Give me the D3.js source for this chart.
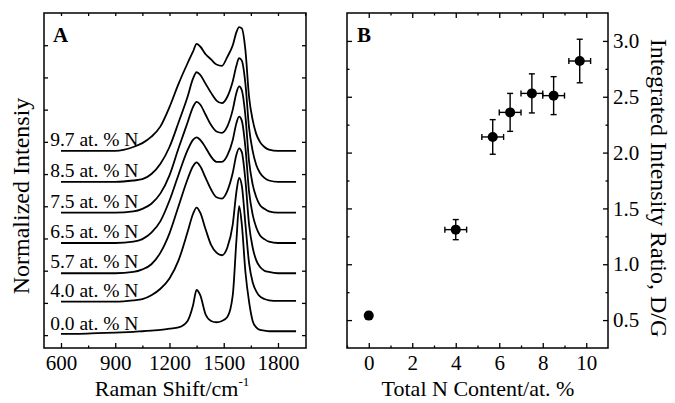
<!DOCTYPE html>
<html lang="en">
  <head>
    <meta charset="utf-8">
    <title>Raman spectra and D/G ratio</title>
    <script src="https://d3js.org/d3.v7.min.js"></script>
    <style>
     body { margin: 0; background-color: white; }
     svg { font-family: "Liberation Serif", "Times New Roman", serif; }
     .frame { fill: none; stroke: black; stroke-width: 1.5px; }
     .tick line { stroke: black; stroke-width: 1.3px; }
     .tick text { font-family: "Liberation Serif", "Times New Roman", serif; font-size: 21px; fill: black; }
     .domain { display: none; }
     .spec { fill: none; stroke: black; stroke-width: 1.8px; stroke-linejoin: round; }
     .err { stroke: black; stroke-width: 1.4px; }
    </style>
  </head>
  <body>
  <div id="chart"></div>
  <script>

  // ---- panel A: Raman spectra, normalised to the G band ----
  var wavenumbers = [600, 700, 800, 900, 1000, 1050, 1100, 1150, 1200, 1250, 1300, 1330, 1350, 1370, 1400, 1430,
                     1460, 1490, 1520, 1550, 1570, 1585, 1600, 1620, 1640, 1660, 1680, 1700, 1725, 1750, 1800, 1900];

  var spec00 = [0.01, 0.01, 0.015, 0.02, 0.025, 0.03, 0.035, 0.04, 0.05, 0.06, 0.11, 0.23, 0.35, 0.31, 0.16, 0.11,
                0.1, 0.11, 0.14, 0.31, 0.73, 1.0, 0.86, 0.49, 0.26, 0.11, 0.06, 0.04, 0.035, 0.03, 0.03, 0.03];
  var spec40 = [0, 0, 0, 0, 0.01, 0.02, 0.05, 0.1, 0.18, 0.32, 0.54, 0.68, 0.73, 0.69, 0.56, 0.44,
                0.38, 0.36, 0.42, 0.6, 0.85, 0.96, 0.9, 0.6, 0.3, 0.15, 0.08, 0.04, 0.02, 0.01, 0.005, 0.005];
  var spec57 = [0, 0, 0, 0, 0.01, 0.03, 0.07, 0.16, 0.31, 0.52, 0.73, 0.83, 0.86, 0.83, 0.74, 0.65,
                0.59, 0.58, 0.64, 0.78, 0.92, 0.97, 0.94, 0.72, 0.38, 0.2, 0.1, 0.05, 0.02, 0.01, 0, 0];
  var spec65 = [0, 0, 0, 0, 0.01, 0.03, 0.08, 0.17, 0.33, 0.53, 0.72, 0.8, 0.82, 0.8, 0.74, 0.67,
                0.63, 0.63, 0.68, 0.8, 0.93, 0.98, 0.95, 0.74, 0.4, 0.22, 0.12, 0.06, 0.03, 0.01, 0, 0];
  var spec75 = [0, 0, 0, 0, 0.01, 0.03, 0.07, 0.15, 0.29, 0.5, 0.7, 0.82, 0.86, 0.84, 0.76, 0.68,
                0.63, 0.62, 0.67, 0.8, 0.93, 0.98, 0.95, 0.75, 0.4, 0.22, 0.12, 0.06, 0.03, 0.01, 0, 0];
  var spec85 = [0, 0, 0, 0, 0.01, 0.02, 0.06, 0.14, 0.27, 0.46, 0.66, 0.8, 0.85, 0.83, 0.76, 0.69,
                0.63, 0.61, 0.66, 0.78, 0.9, 0.96, 0.94, 0.76, 0.42, 0.24, 0.13, 0.07, 0.03, 0.01, 0, 0];
  var spec97 = [0, 0, 0, 0, 0.03, 0.06, 0.11, 0.19, 0.34, 0.52, 0.68, 0.77, 0.83, 0.81, 0.75, 0.71,
                0.67, 0.66, 0.73, 0.82, 0.92, 0.96, 0.95, 0.78, 0.42, 0.24, 0.13, 0.07, 0.03, 0.01, 0, 0];

  var spectra = [spec00, spec40, spec57, spec65, spec75, spec85, spec97];
  var offsets = [0, 0.26, 0.48, 0.715, 0.95, 1.19, 1.43];
  var specLabels = ["0.0 at. % N", "4.0 at. % N", "5.7 at. % N", "6.5 at. % N",
                    "7.5 at. % N", "8.5 at. % N", "9.7 at. % N"];

  // ---- panel B: integrated intensity ratio ----
  var nContent = [0, 4.0, 5.7, 6.5, 7.5, 8.5, 9.7];
  var nErr     = [0, 0.5, 0.5, 0.5, 0.5, 0.5, 0.5];
  var dgRatio  = [0.54, 1.31, 2.14, 2.36, 2.53, 2.51, 2.82];
  var dgErr    = [0.03, 0.09, 0.155, 0.17, 0.175, 0.17, 0.195];

  var W = 675, H = 403;
  var plotTop = 13, plotBottom = 348;

  var svg = d3.select("#chart").append("svg")
      .attr("width", W).attr("height", H);

  // =========== panel A ===========
  var ax = d3.scaleLinear().domain([506, 1955]).range([44, 306]);
  var ay = d3.scaleLinear().domain([-0.1, 2.5]).range([plotBottom, plotTop]);

  var gA = svg.append("g");

  // ticks pointing inwards on all four sides
  gA.append("g").attr("transform", "translate(0," + plotBottom + ")")
    .call(d3.axisBottom(ax).tickValues([600, 900, 1200, 1500, 1800]).tickSize(-5).tickPadding(7).tickFormat(d3.format("d")));
  gA.append("g").attr("transform", "translate(0," + plotBottom + ")")
    .call(d3.axisBottom(ax).tickValues([750, 1050, 1350, 1650]).tickSize(-2.5).tickFormat(""));
  gA.append("g").attr("transform", "translate(0," + plotTop + ")")
    .call(d3.axisTop(ax).tickValues(d3.range(600, 1951, 150)).tickSize(-3).tickFormat(""));

  var aTicks = d3.range(0, 2.3, 0.25);
  gA.append("g").attr("transform", "translate(44,0)")
    .call(d3.axisLeft(ay).tickValues(aTicks).tickSize(-4).tickFormat(""));
  gA.append("g").attr("transform", "translate(306,0)")
    .call(d3.axisRight(ay).tickValues(aTicks).tickSize(-4).tickFormat(""));

  var line = d3.line().curve(d3.curveMonotoneX);

  spectra.forEach(function(s, i) {
    gA.append("path")
      .attr("class", "spec")
      .attr("d", line(s.map(function(v, j) { return [ax(wavenumbers[j]), ay(v + offsets[i])]; })));
    gA.append("text")
      .attr("x", ax(540))
      .attr("y", ay(offsets[i]) - 5)
      .attr("font-size", "19.5px")
      .text(specLabels[i]);
  });

  gA.append("rect").attr("class", "frame")
    .attr("x", 44).attr("y", plotTop).attr("width", 306 - 44).attr("height", plotBottom - plotTop);

  gA.append("text").attr("x", 53).attr("y", 42)
    .attr("font-size", "21px").attr("font-weight", "bold").text("A");

  gA.append("text")
    .attr("transform", "translate(29,196) rotate(-90)")
    .attr("text-anchor", "middle")
    .attr("font-size", "24px")
    .text("Normalized Intensiy");

  var xt = gA.append("text").attr("x", 172).attr("y", 396)
    .attr("text-anchor", "middle").attr("font-size", "22px");
  xt.append("tspan").text("Raman Shift/cm");
  xt.append("tspan").attr("dy", -10).attr("font-size", "13px").text("-1");

  // =========== panel B ===========
  var bx = d3.scaleLinear().domain([-1, 11]).range([347, 608]);
  var by = d3.scaleLinear().domain([0.25, 3.25]).range([plotBottom, plotTop]);

  var gB = svg.append("g");

  gB.append("g").attr("transform", "translate(0," + plotBottom + ")")
    .call(d3.axisBottom(bx).tickValues([0, 2, 4, 6, 8, 10]).tickSize(-5).tickPadding(7).tickFormat(d3.format("d")));
  gB.append("g").attr("transform", "translate(0," + plotBottom + ")")
    .call(d3.axisBottom(bx).tickValues([-1, 1, 3, 5, 7, 9]).tickSize(-2.5).tickFormat(""));
  gB.append("g").attr("transform", "translate(0," + plotTop + ")")
    .call(d3.axisTop(bx).tickValues([0, 2, 4, 6, 8, 10]).tickSize(-5).tickFormat(""));
  gB.append("g").attr("transform", "translate(0," + plotTop + ")")
    .call(d3.axisTop(bx).tickValues([1, 3, 5, 7, 9]).tickSize(-2.5).tickFormat(""));

  var bMajor = [0.5, 1.0, 1.5, 2.0, 2.5, 3.0];
  var bMinor = [0.75, 1.25, 1.75, 2.25, 2.75];
  gB.append("g").attr("transform", "translate(608,0)")
    .call(d3.axisRight(by).tickValues(bMajor).tickSize(-5).tickPadding(5).tickFormat(d3.format(".1f")));
  gB.append("g").attr("transform", "translate(608,0)")
    .call(d3.axisRight(by).tickValues(bMinor).tickSize(-2.5).tickFormat(""));
  gB.append("g").attr("transform", "translate(347,0)")
    .call(d3.axisLeft(by).tickValues(bMajor).tickSize(-5).tickFormat(""));
  gB.append("g").attr("transform", "translate(347,0)")
    .call(d3.axisLeft(by).tickValues(bMinor).tickSize(-2.5).tickFormat(""));

  // error bars
  var pts = nContent.map(function(n, i) {
    return { x: n, y: dgRatio[i], ex: nErr[i], ey: dgErr[i] };
  });

  var pg = gB.selectAll(".pt").data(pts).enter().append("g").attr("class", "pt");
  pg.append("line").attr("class", "err")
    .attr("x1", function(d) { return bx(d.x); }).attr("x2", function(d) { return bx(d.x); })
    .attr("y1", function(d) { return by(d.y - d.ey); }).attr("y2", function(d) { return by(d.y + d.ey); });
  pg.append("line").attr("class", "err")
    .attr("x1", function(d) { return bx(d.x - d.ex); }).attr("x2", function(d) { return bx(d.x + d.ex); })
    .attr("y1", function(d) { return by(d.y); }).attr("y2", function(d) { return by(d.y); });
  // caps
  [-1, 1].forEach(function(s) {
    pg.append("line").attr("class", "err")
      .attr("x1", function(d) { return bx(d.x) - 3; }).attr("x2", function(d) { return bx(d.x) + 3; })
      .attr("y1", function(d) { return by(d.y + s * d.ey); }).attr("y2", function(d) { return by(d.y + s * d.ey); });
    pg.filter(function(d) { return d.ex > 0; }).append("line").attr("class", "err")
      .attr("x1", function(d) { return bx(d.x + s * d.ex); }).attr("x2", function(d) { return bx(d.x + s * d.ex); })
      .attr("y1", function(d) { return by(d.y) - 3; }).attr("y2", function(d) { return by(d.y) + 3; });
  });
  pg.append("circle")
    .attr("cx", function(d) { return bx(d.x); })
    .attr("cy", function(d) { return by(d.y); })
    .attr("r", 5).attr("fill", "black");

  gB.append("rect").attr("class", "frame")
    .attr("x", 347).attr("y", plotTop).attr("width", 608 - 347).attr("height", plotBottom - plotTop);

  gB.append("text").attr("x", 357).attr("y", 42)
    .attr("font-size", "21px").attr("font-weight", "bold").text("B");

  gB.append("text").attr("x", 478).attr("y", 396)
    .attr("text-anchor", "middle").attr("font-size", "22px")
    .text("Total N Content/at. %");

  gB.append("text")
    .attr("transform", "translate(651,188) rotate(90)")
    .attr("text-anchor", "middle")
    .attr("font-size", "24px")
    .text("Integrated Intensity Ratio, D/G");

  </script>
  </body>
</html>
